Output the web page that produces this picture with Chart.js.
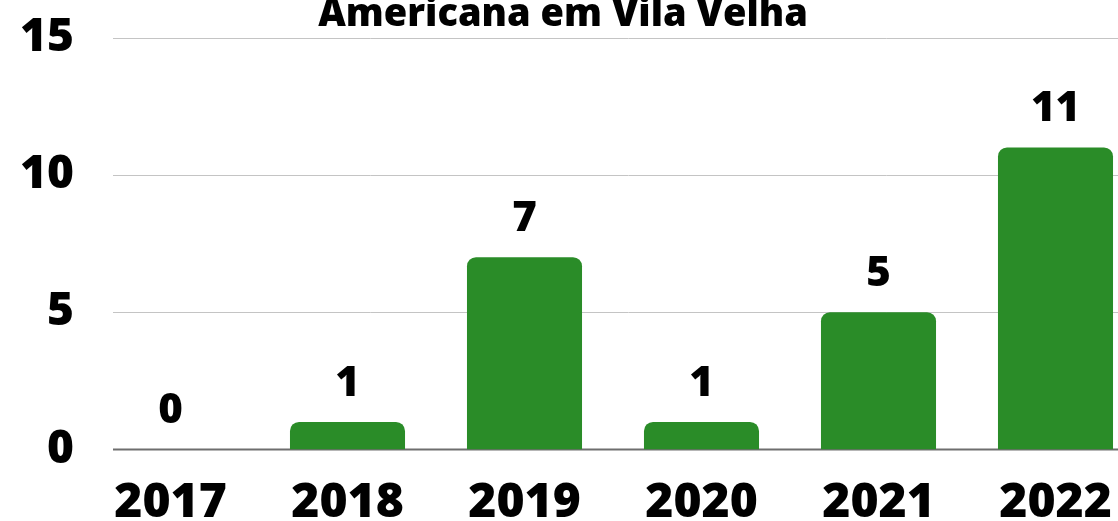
<!DOCTYPE html>
<html>
<head>
<meta charset="utf-8">
<script src="https://cdn.jsdelivr.net/npm/chart.js@4"></script>
<style>
  html,body{margin:0;padding:0;background:#fff;overflow:hidden;width:1118px;height:521px;}
  #wrap{position:absolute;left:-18px;top:-8px;width:1168px;height:565px;}
</style>
</head>
<body>
<div id="wrap"><canvas id="chart"></canvas></div>
<script>
// dados
const years = ["2017","2018","2019","2020","2021","2022"];
const counts = [0,1,7,1,5,11];
const yTicks = [0,5,10,15];
const title = "Americana em Vila Velha";

const green = "rgb(42,140,40)";

// linhas de grade (comecam um pouco depois do eixo, como no original)
const gridLines = {
  id: "gridLines",
  beforeDatasetsDraw(chart) {
    const ctx = chart.ctx;
    const y = chart.scales.y;
    const a = chart.chartArea;
    ctx.save();
    yTicks.forEach(v => {
      const py = Math.round(y.getPixelForValue(v)) + 0.5;
      ctx.beginPath();
      ctx.strokeStyle = v == 0 ? "#6e6e6e" : "#c4c4c4";
      ctx.lineWidth = v == 0 ? 2 : 1;
      ctx.moveTo(a.left + 31, py);
      ctx.lineTo(a.right, py);
      ctx.stroke();
    });
    ctx.restore();
  }
};

// rotulos em cima das barras
const valueLabels = {
  id: "valueLabels",
  afterDatasetsDraw(chart) {
    const ctx = chart.ctx;
    const meta = chart.getDatasetMeta(0);
    ctx.save();
    ctx.font = "800 42px 'Open Sans'";
    ctx.fillStyle = "#000";
    ctx.textAlign = "center";
    ctx.textBaseline = "alphabetic";
    meta.data.forEach((bar, i) => {
      ctx.fillText(String(counts[i]), bar.x, bar.y - 26);
    });
    ctx.restore();
  }
};

const chart = new Chart(document.getElementById("chart").getContext("2d"), {
  type: "bar",
  data: {
    labels: years,
    datasets: [{
      data: counts,
      backgroundColor: green,
      borderRadius: 9,
      borderSkipped: "bottom",
      barPercentage: 0.65,
      categoryPercentage: 1
    }]
  },
  options: {
    responsive: true,
    maintainAspectRatio: false,
    animation: false,
    layout: {padding: {left: 0, right: 6, top: 0, bottom: 0}},
    plugins: {
      legend: {display: false},
      tooltip: {enabled: false},
      title: {
        display: true,
        text: title,
        color: "#000",
        font: {family: "'Open Sans'", size: 38, weight: "800"},
        padding: {top: 0, bottom: 0}
      }
    },
    scales: {
      x: {
        grid: {display: false, drawTicks: false},
        border: {display: false},
        ticks: {
          color: "#000",
          padding: 25,
          font: {family: "'Open Sans'", size: 48, weight: "800"}
        }
      },
      y: {
        min: 0,
        max: 15,
        afterFit(scale) { scale.width = 100; },
        afterBuildTicks(scale) { scale.ticks = yTicks.map(v => ({value: v})); },
        grid: {display: false, drawTicks: false},
        border: {display: false},
        ticks: {
          color: "#000",
          padding: 8,
          font: {family: "'Open Sans'", size: 46, weight: "800"}
        }
      }
    }
  },
  plugins: [gridLines, valueLabels]
});
</script>
</body>
</html>
